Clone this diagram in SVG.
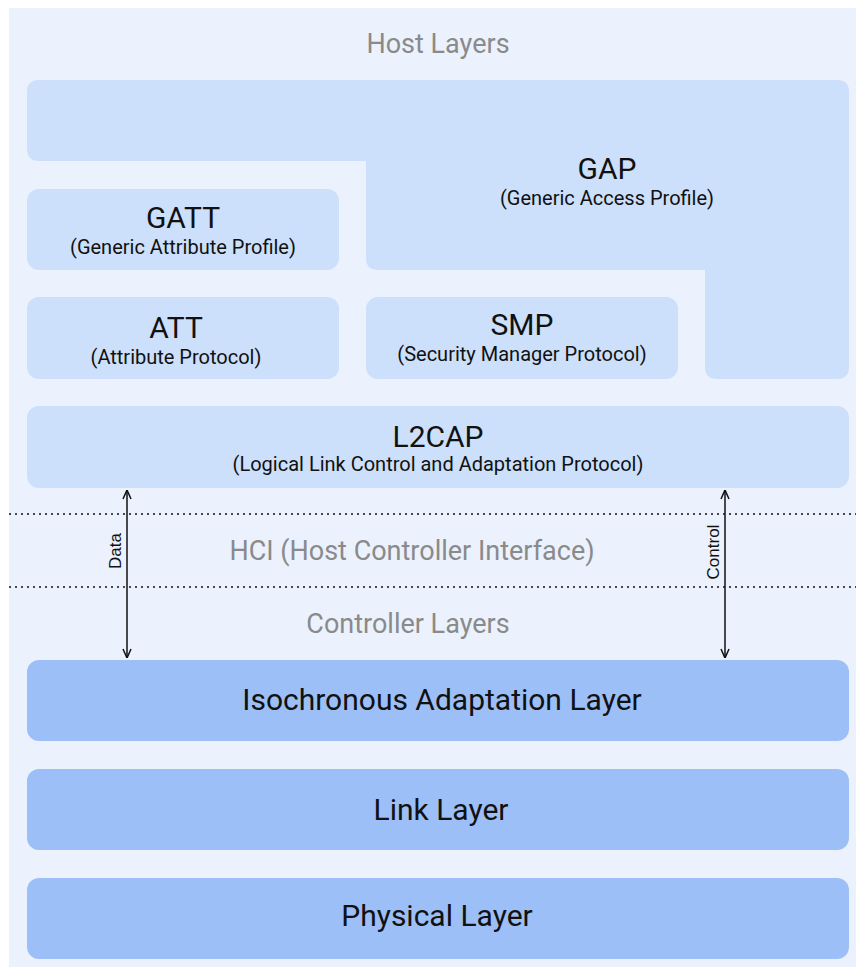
<svg xmlns="http://www.w3.org/2000/svg" width="856" height="973" viewBox="0 0 856 973">
<style>
.up{fill:#CCDFFB}
.lo{fill:#9DBFF7}
.t{font-family:Roboto,"Liberation Sans",sans-serif;fill:#111;text-anchor:middle}
.h{font-size:30px}
.s{font-size:20px}
.big{font-size:30px}
.g{font-family:Roboto,"Liberation Sans",sans-serif;fill:#8a8a8a;text-anchor:middle;font-size:27px}
.dot{stroke:#111;stroke-width:1.5;stroke-dasharray:2 4}
.arr{stroke:#111;stroke-width:1.5;fill:none;marker-start:url(#ah);marker-end:url(#ah)}
.lbl{font-family:"Liberation Sans",Arial,sans-serif;font-size:17px;fill:#111;text-anchor:middle}
</style>
<defs>
<marker id="ah" viewBox="0 0 10 10" refX="10" refY="5" markerWidth="10" markerHeight="10" markerUnits="userSpaceOnUse" orient="auto-start-reverse">
<path d="M1 1 L10 5 L1 9" fill="none" stroke="#111" stroke-width="1.5"/>
</marker>
</defs>
<rect x="0" y="0" width="856" height="973" fill="#fff"/>
<rect x="9" y="8" width="847" height="959" fill="#EBF2FD"/>
<text class="g" x="438" y="53">Host Layers</text>
<g id="gap">
<path class="up" d="M39 80 H837 Q849 80 849 92 V367 Q849 379 837 379 H717 Q705 379 705 367 V270 H378 Q366 270 366 258 V161 H39 Q27 161 27 149 V92 Q27 80 39 80 Z"/>
<text class="t h" x="607" y="179">GAP</text>
<text class="t s" x="607" y="205">(Generic Access Profile)</text>
</g>
<g id="gatt">
<rect class="up" x="27" y="189" width="312" height="81" rx="12"/>
<text class="t h" x="183" y="228">GATT</text>
<text class="t s" x="183" y="254">(Generic Attribute Profile)</text>
</g>
<g id="att">
<rect class="up" x="27" y="297" width="312" height="82" rx="12"/>
<text class="t h" x="176" y="338">ATT</text>
<text class="t s" x="176" y="364">(Attribute Protocol)</text>
</g>
<g id="smp">
<rect class="up" x="366" y="297" width="312" height="82" rx="12"/>
<text class="t h" x="522" y="335">SMP</text>
<text class="t s" x="522" y="361">(Security Manager Protocol)</text>
</g>
<g id="l2cap">
<rect class="up" x="27" y="406" width="822" height="82" rx="12"/>
<text class="t h" x="438" y="447">L2CAP</text>
<text class="t s" x="438" y="471">(Logical Link Control and Adaptation Protocol)</text>
</g>
<text class="g" x="412" y="560">HCI (Host Controller Interface)</text>
<text class="g" x="408" y="633">Controller Layers</text>
<g id="iso">
<rect class="lo" x="27" y="660" width="822" height="81" rx="12"/>
<text class="t big" x="442" y="710">Isochronous Adaptation Layer</text>
</g>
<g id="link">
<rect class="lo" x="27" y="769" width="822" height="81" rx="12"/>
<text class="t big" x="441" y="820">Link Layer</text>
</g>
<g id="phy">
<rect class="lo" x="27" y="878" width="822" height="81" rx="12"/>
<text class="t big" x="437" y="926">Physical Layer</text>
</g>
<g id="connectors">
<line class="dot" x1="9" y1="514" x2="856" y2="514"/>
<line class="dot" x1="9" y1="587" x2="856" y2="587"/>
<line class="arr" x1="127" y1="490" x2="127" y2="658"/>
<line class="arr" x1="725" y1="490" x2="725" y2="658"/>
<text class="lbl" transform="translate(121 551) rotate(-90)">Data</text>
<text class="lbl" transform="translate(719 552) rotate(-90)">Control</text>
</g>
</svg>
